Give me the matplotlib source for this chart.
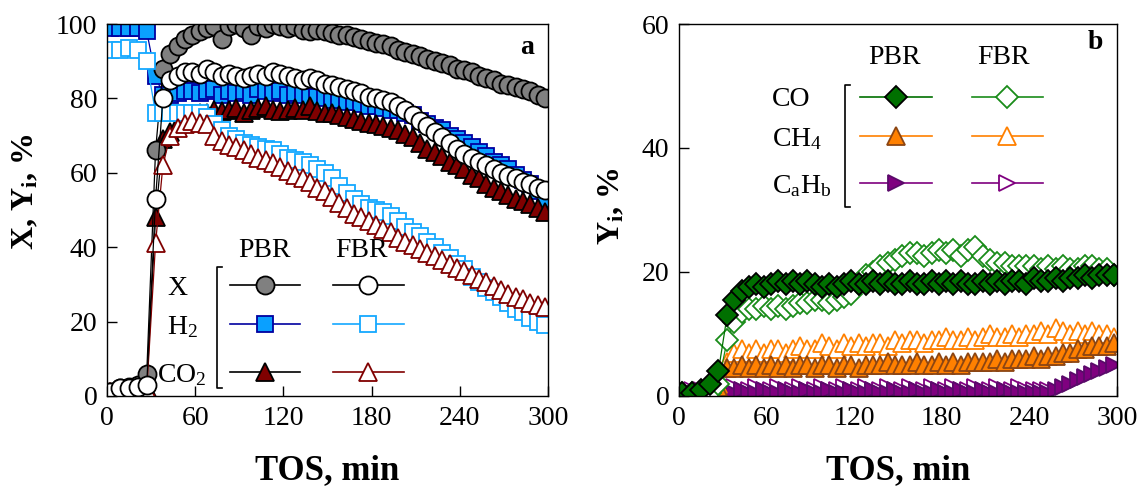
import matplotlib
matplotlib.use("Agg")
import matplotlib.pyplot as plt
from matplotlib.lines import Line2D

plt.rcParams["font.family"] = "Liberation Serif"
plt.rcParams["mathtext.fontset"] = "custom"
plt.rcParams["mathtext.rm"] = "Liberation Serif"
plt.rcParams["mathtext.it"] = "Liberation Serif:italic"
plt.rcParams["mathtext.bf"] = "Liberation Serif:bold"

# sampling times, min (same grid for both reactors)
TOS = [2, 9, 15, 21, 27] + list(range(33, 300, 5))

# panel a: conversion X and yields of H2 / CO2, %
X_PBR = [1, 2, 2.5, 3, 6, 66, 88, 92, 94, 96,
         97, 98, 99, 99.5, 96, 99.5, 100, 99, 97, 99.5,
         99, 100, 99.5, 99, 99.5, 98.5, 98, 98.5, 98, 97.5,
         97, 97, 96.5, 96, 95.5, 95, 94.5, 94, 93, 92.5,
         92, 91.5, 90.5, 90, 89.5, 89, 88, 87.5, 87, 86,
         85.5, 85, 84, 83.5, 83, 82.5, 82, 81, 80]
X_FBR = [1, 2, 2, 2.5, 3, 53, 80, 85, 86, 87,
         87, 86.5, 88, 87, 86, 86.5, 86, 85.5, 86, 86.5,
         86, 87, 86.5, 86, 85.5, 85, 85.5, 85, 84, 83.5,
         83, 82.5, 82, 81.5, 80.5, 80, 79.5, 79, 78, 77,
         75.5, 74, 72.5, 71, 69.5, 68, 66.5, 65, 64, 63,
         62, 61, 60, 59, 58.5, 57.5, 57, 56, 55.5]
H2_PBR = [99, 99, 99, 99, 98, 86, 81, 81, 81.5, 82,
          82, 81.5, 82, 82.5, 81, 82, 81.5, 82, 81, 82.5,
          82, 81.5, 82, 81, 81.5, 81, 80.5, 80.5, 80, 79.5,
          79.5, 79, 79, 78.5, 78, 78, 77.5, 77, 77, 76,
          75.5, 74, 73, 72, 71.5, 70, 69, 68, 67, 65.5,
          64.5, 63, 62, 61, 59.5, 58, 57, 55, 53]
H2_FBR = [93, 93, 93.5, 93, 90, 76, 76, 76, 76, 76,
          76, 76, 75, 73, 71.5, 70, 69, 68, 67.5, 67,
          66.5, 66, 65, 64, 63.5, 63, 62, 61, 60, 58.5,
          56.5, 54.5, 53, 51.5, 50.5, 50, 49.5, 48.5, 47, 45.5,
          44, 43, 41.5, 40, 38.5, 37, 35.5, 34, 32, 30.5,
          29, 28, 26.5, 25, 23.5, 22.5, 21, 20, 19]
CO2_PBR = [1, 1, 1.5, 2, 2, 48, 69, 71, 73, 74,
           75, 76, 76, 77, 76.5, 77, 77.5, 76, 77, 77.5,
           78, 77, 76.5, 77, 77.5, 77, 78, 76.5, 76, 76,
           75.5, 75, 74.5, 74, 73.5, 73, 72.5, 72, 71.5, 70.5,
           69.5, 68, 66.5, 65.5, 64.5, 63, 62, 61, 59.5, 58.5,
           57, 56, 55, 54, 53, 52.5, 51.5, 50.5, 49.5]
CO2_FBR = [1, 1, 1, 1, 1.5, 41, 62, 70, 72, 73,
           74, 73.5, 73, 70, 68.5, 67.5, 67, 66, 65, 64,
           63.5, 62.5, 61.5, 60.5, 59.5, 58.5, 57.5, 56, 55, 53.5,
           52, 50.5, 49, 48, 47, 46, 45, 44, 42.5, 41.5,
           40.5, 39.5, 38.5, 37.5, 36.5, 35.5, 34.5, 33.5, 32.5, 31.5,
           30.5, 29.5, 28.5, 27.5, 26.5, 26, 25, 24.5, 24]

# panel b: yields of CO, CH4 and CaHb, %
CO_PBR = [0.5, 0.5, 1, 2, 4, 13, 15.5, 17, 17.5, 18,
          17.5, 18, 18.5, 18, 18.5, 18, 18.5, 18, 17.5, 18,
          17.5, 18, 18.5, 18, 18, 18.5, 18, 18.5, 18, 18,
          18.5, 18, 18, 18.5, 18, 18.5, 18, 18.5, 18, 18,
          18.5, 18, 18.5, 18, 18.5, 18.5, 18, 19, 18.5, 18.5,
          19, 18.5, 19, 19, 19.5, 19, 19.5, 19.5, 19.5]
CO_FBR = [0.5, 0.5, 0.5, 0.5, 2, 9, 12, 13.5, 14, 14,
          14.5, 14, 14.5, 14, 14.5, 15, 15, 15.5, 15.5, 15,
          15.5, 16, 16.5, 18, 19.5, 20, 21, 21.5, 22, 22.5,
          23, 23, 22.5, 23, 23.5, 23, 23.5, 22.5, 23.5, 24,
          22.5, 22, 21.5, 21.5, 21, 21, 21, 21, 20.5, 21,
          20.5, 21, 20.5, 20.5, 21, 21, 20.5, 20.5, 19.5]
CH4_PBR = [0.5, 0.5, 0.5, 0.5, 1.5, 4.5, 4.5, 5, 4.5, 5,
           4.5, 5, 4.5, 5, 4.5, 5, 5, 4.5, 5, 5,
           4.5, 5, 5, 4.5, 5, 5, 5, 5.5, 5, 5,
           5, 5.5, 5, 5, 5.5, 5, 5.5, 5, 5.5, 5.5,
           5.5, 5.5, 6, 5.5, 6, 6, 6, 6.5, 6, 6.5,
           6.5, 7, 7, 7.5, 7.5, 8, 8, 8, 8.5]
CH4_FBR = [0.5, 0.5, 0.5, 0.5, 2, 5.5, 7, 7.5, 7, 7.5,
           7, 7.5, 7.5, 7, 7.5, 8, 7.5, 7.5, 8.5, 8,
           7.5, 8.5, 8, 8.5, 8, 8.5, 8.5, 8, 9, 8.5,
           9, 9, 8.5, 9, 9, 9.5, 9, 9, 9.5, 9,
           9.5, 10, 9.5, 9.5, 10, 9.5, 10, 10, 10.5, 10,
           11, 10.5, 10, 10.5, 10, 10.5, 10, 10, 9.5]
CAHB_PBR = [0.5, 0.5, 0.5, 0.5, 0.5, 0.5, 0.5, 1, 0.5, 0.5,
            1, 0.5, 0.5, 1, 0.5, 0.5, 1, 0.5, 0.5, 1,
            0.5, 0.5, 1, 0.5, 0.5, 1, 0.5, 0.5, 1, 0.5,
            0.5, 1, 0.5, 0.5, 1, 0.5, 0.5, 1, 0.5, 0.5,
            1, 0.5, 0.5, 1, 0.5, 0.5, 0.5, 0.5, 0.5, 0.5,
            1, 1.5, 2, 2.5, 3, 3.5, 4, 4.5, 5]
CAHB_FBR = [1, 1, 1, 1, 1, 1, 1.5, 1, 1, 1.5,
            1, 1, 1.5, 1, 1, 1.5, 1, 1, 1.5, 1,
            1, 1.5, 1, 1, 1.5, 1, 1, 1.5, 1, 1,
            1.5, 1, 1, 1.5, 1, 1, 1.5, 1, 1, 1.5,
            1, 1, 1.5, 1, 1, 1.5, 1, 1, 1, 1]

GRAY = "#808080"
BLUE_FILL = "#0aa0ff"
BLUE_EDGE = "#0000a0"
LIGHT_BLUE = "#14a8ff"
DARK_RED = "#800000"
GREEN = "#007000"
GREEN_OPEN = "#1a8c1a"
ORANGE = "#ff8000"
BROWN = "#8b4513"
PURPLE = "#7f007f"

# style per series: (marker, size, line colour, face colour, edge colour)
STYLE_A = {
    "X_PBR": ("o", 13, "black", GRAY, "black"),
    "X_FBR": ("o", 13, "black", "white", "black"),
    "H2_PBR": ("s", 11, BLUE_EDGE, BLUE_FILL, BLUE_EDGE),
    "H2_FBR": ("s", 11, LIGHT_BLUE, "white", LIGHT_BLUE),
    "CO2_PBR": ("^", 13, "black", DARK_RED, "black"),
    "CO2_FBR": ("^", 13, DARK_RED, "white", DARK_RED),
}
STYLE_B = {
    "CO_PBR": ("D", 11, GREEN, GREEN, "black"),
    "CO_FBR": ("D", 11, GREEN_OPEN, "white", GREEN_OPEN),
    "CH4_PBR": ("^", 13, ORANGE, ORANGE, BROWN),
    "CH4_FBR": ("^", 13, ORANGE, "white", ORANGE),
    "CAHB_PBR": (">", 12, PURPLE, PURPLE, "#5a0a6a"),
    "CAHB_FBR": (">", 12, PURPLE, "white", PURPLE),
}

FS = 20
FS_KEY = 20


def draw(ax, x, y, st):
    m, ms, lc, fc, ec = st
    ax.plot(x[:len(y)], y, color=lc, lw=0.9, marker=m, ms=ms,
            mfc=fc, mec=ec, mew=1.3)


def key(ax, x0, x1, y, st):
    m, ms, lc, fc, ec = st
    ax.add_line(Line2D([x0, x1], [y, y], color=lc, lw=1.2,
                       transform=ax.transAxes, clip_on=False))
    ax.add_line(Line2D([(x0 + x1) / 2], [y], ls="none", marker=m, ms=ms,
                       mfc=fc, mec=ec, mew=1.3,
                       transform=ax.transAxes, clip_on=False))


def bracket(ax, x, y0, y1):
    ax.add_line(Line2D([x + 0.012, x, x, x + 0.012], [y1, y1, y0, y0],
                       color="black", lw=1.2, transform=ax.transAxes))


def style_axes(ax, ymax, yticks):
    ax.set_xlim(0, 300)
    ax.set_ylim(0, ymax)
    ax.set_xticks([0, 60, 120, 180, 240, 300])
    ax.set_yticks(yticks)
    ax.tick_params(direction="in", length=7, width=1, labelsize=FS, pad=7)
    for s in ax.spines.values():
        s.set_linewidth(1)
        s.set_zorder(5)
    ax.set_xlabel("TOS, min", fontsize=25, fontweight="bold", labelpad=17)


fig = plt.figure(figsize=(11.4, 4.9), dpi=100)
ax1 = fig.add_axes([0.0939, 0.192, 0.3868, 0.759])
ax2 = fig.add_axes([0.5956, 0.192, 0.3842, 0.759])

# panel a
draw(ax1, TOS, H2_PBR, STYLE_A["H2_PBR"])
draw(ax1, TOS, CO2_PBR, STYLE_A["CO2_PBR"])
draw(ax1, TOS, X_PBR, STYLE_A["X_PBR"])
draw(ax1, TOS, H2_FBR, STYLE_A["H2_FBR"])
draw(ax1, TOS, CO2_FBR, STYLE_A["CO2_FBR"])
draw(ax1, TOS, X_FBR, STYLE_A["X_FBR"])
style_axes(ax1, 100, [0, 20, 40, 60, 80, 100])
ax1.set_ylabel(r"X, Y$_\mathbf{i}$, %", fontsize=23, fontweight="bold")
ax1.yaxis.set_label_coords(-0.15, 0.55)
ax1.text(0.952, 0.938, "a", transform=ax1.transAxes, fontsize=FS,
         fontweight="bold", ha="center", va="center")

ax1.text(0.358, 0.392, "PBR", transform=ax1.transAxes, fontsize=FS_KEY,
         ha="center", va="center")
ax1.text(0.578, 0.392, "FBR", transform=ax1.transAxes, fontsize=FS_KEY,
         ha="center", va="center")
rows_a = [("X", "X", 0.298, 0.136),
          (r"H$_\mathregular{2}$", "H2", 0.194, 0.136),
          (r"CO$_\mathregular{2}$", "CO2", 0.0645, 0.113)]
for label, name, yy, xl in rows_a:
    ax1.text(xl, yy, label, transform=ax1.transAxes, fontsize=FS_KEY,
             ha="left", va="center_baseline")
    key(ax1, 0.279, 0.438, yy, STYLE_A[name + "_PBR"])
    key(ax1, 0.512, 0.673, yy, STYLE_A[name + "_FBR"])
bracket(ax1, 0.249, 0.0215, 0.347)

# panel b
draw(ax2, TOS, CAHB_FBR, STYLE_B["CAHB_FBR"])
draw(ax2, TOS, CAHB_PBR, STYLE_B["CAHB_PBR"])
draw(ax2, TOS, CH4_FBR, STYLE_B["CH4_FBR"])
draw(ax2, TOS, CH4_PBR, STYLE_B["CH4_PBR"])
draw(ax2, TOS, CO_FBR, STYLE_B["CO_FBR"])
draw(ax2, TOS, CO_PBR, STYLE_B["CO_PBR"])
style_axes(ax2, 60, [0, 20, 40, 60])
ax2.set_ylabel(r"Y$_\mathbf{i}$, %", fontsize=23, fontweight="bold")
ax2.yaxis.set_label_coords(-0.12, 0.51)
ax2.text(0.95, 0.949, "b", transform=ax2.transAxes, fontsize=FS,
         fontweight="bold", ha="center", va="center")

ax2.text(0.491, 0.909, "PBR", transform=ax2.transAxes, fontsize=FS_KEY,
         ha="center", va="center")
ax2.text(0.742, 0.909, "FBR", transform=ax2.transAxes, fontsize=FS_KEY,
         ha="center", va="center")
rows_b = [("CO", "CO", 0.804),
          (r"CH$_\mathregular{4}$", "CH4", 0.699),
          (r"C$_\mathregular{a}$H$_\mathregular{b}$", "CAHB", 0.573)]
for label, name, yy in rows_b:
    ax2.text(0.212, yy, label, transform=ax2.transAxes, fontsize=FS_KEY,
             ha="left", va="center_baseline")
    key(ax2, 0.413, 0.578, yy, STYLE_B[name + "_PBR"])
    key(ax2, 0.669, 0.831, yy, STYLE_B[name + "_FBR"])
bracket(ax2, 0.379, 0.508, 0.836)

fig.savefig("out.png", dpi=100)
